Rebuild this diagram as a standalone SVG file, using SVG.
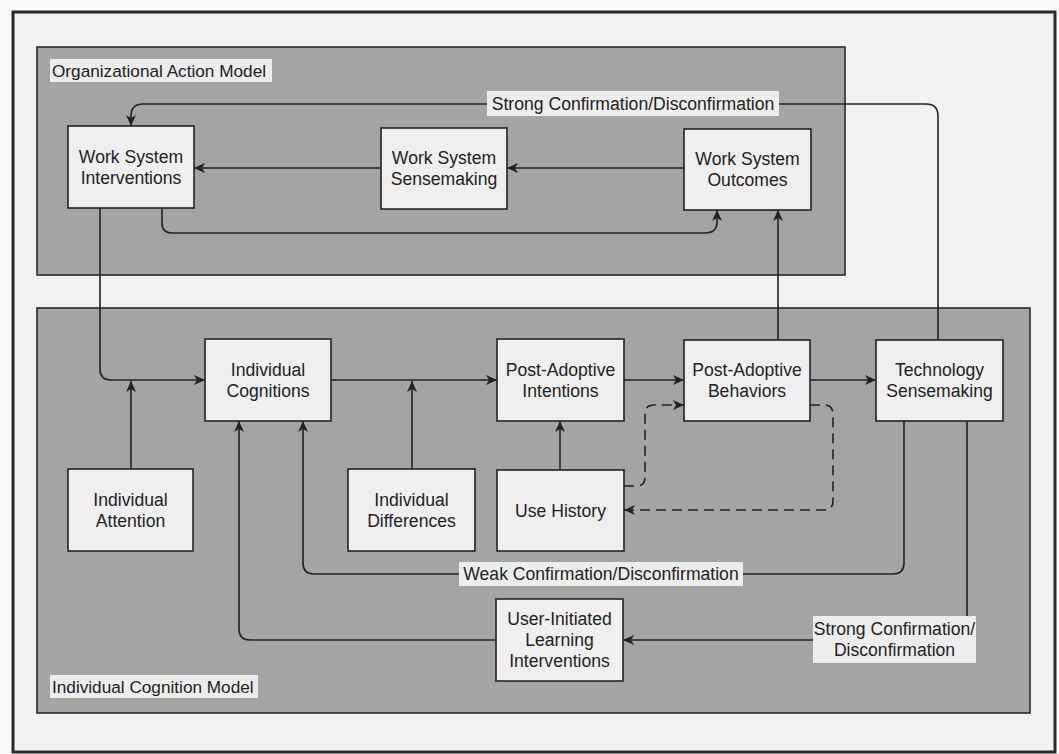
<svg xmlns="http://www.w3.org/2000/svg" width="1059" height="754" viewBox="0 0 1059 754">
<defs>
<style>
.panel{fill:#a4a4a4;stroke:#2a2a2a;stroke-width:1.6}
.box{fill:#efefef;stroke:#222;stroke-width:1.6}
.t{font-family:"Liberation Sans",Arial,sans-serif;font-size:17.6px;fill:#222;text-anchor:middle}
.tl{font-family:"Liberation Sans",Arial,sans-serif;font-size:17.2px;fill:#222}
.lbg{fill:#ededed}
.c{fill:none;stroke:#222;stroke-width:1.6}
.d{fill:none;stroke:#222;stroke-width:1.6;stroke-dasharray:10,6}
.a{marker-end:url(#ah)}
</style>
<marker id="ah" markerUnits="userSpaceOnUse" markerWidth="12" markerHeight="10" refX="11" refY="5" orient="auto">
<path d="M0,0 L11,5 L0,10 L3,5 z" fill="#222"/>
</marker>
</defs>
<rect x="0" y="0" width="1059" height="754" fill="#fafafa"/>
<rect x="13" y="12" width="1042" height="740" fill="#f1f1f1" stroke="#2a2a2a" stroke-width="3"/>
<g id="panel-org">
<rect class="panel" x="37" y="47" width="808" height="228"/>
<rect class="lbg" x="50" y="59" width="222" height="23"/>
<text class="tl" x="52" y="77">Organizational Action Model</text>
</g>
<g id="panel-ind">
<rect class="panel" x="37" y="308" width="993" height="405"/>
<rect class="lbg" x="50" y="675" width="208" height="23"/>
<text class="tl" x="52" y="693">Individual Cognition Model</text>
</g>
<g id="connectors">
<path class="c a" d="M684,168 H507"/>
<path class="c a" d="M381,168 H194"/>
<path class="c a" d="M162,208 V223 Q162,233 172,233 H705 Q717,233 717,222 V210"/>
<path class="c a" d="M938,340 V116 Q938,104 926,104 H143 Q131,104 131,116 V126"/>
<path class="c a" d="M100,208 V369 Q100,380 111,380 H205"/>
<path class="c a" d="M131,469 V381"/>
<path class="c a" d="M331,380 H497"/>
<path class="c a" d="M412,469 V381"/>
<path class="c a" d="M624,380 H684"/>
<path class="c a" d="M810,380 H876"/>
<path class="c a" d="M560,470 V421"/>
<path class="c a" d="M778,340 V210"/>
<path class="d a" d="M624,486 H637 Q645,486 645,477 V414 Q645,405 654,405 H684"/>
<path class="d a" d="M810,405 H824 Q833,405 833,414 V501 Q833,510 824,510 H624"/>
<path class="c a" d="M904,421 V563 Q904,574 893,574 H314 Q303,574 303,563 V421"/>
<path class="c a" d="M967,421 V640 H623"/>
<path class="c a" d="M496,640 H250 Q239,640 239,629 V421"/>
<rect class="lbg" x="487" y="91" width="292" height="25"/>
<text class="t" x="633" y="110">Strong Confirmation/Disconfirmation</text>
<rect class="lbg" x="459" y="562" width="284" height="24"/>
<text class="t" x="601" y="580">Weak Confirmation/Disconfirmation</text>
<rect class="lbg" x="813" y="616" width="163" height="47"/>
<text class="t" x="894.5" y="635">Strong Confirmation/</text>
<text class="t" x="894.5" y="656">Disconfirmation</text>
</g>
<g id="wsi"><rect class="box" x="68" y="126" width="126" height="82"/><text class="t" x="131" y="163">Work System</text><text class="t" x="131" y="184">Interventions</text></g>
<g id="wss"><rect class="box" x="381" y="128" width="126" height="81"/><text class="t" x="444" y="164">Work System</text><text class="t" x="444" y="185">Sensemaking</text></g>
<g id="wso"><rect class="box" x="684" y="129" width="127" height="81"/><text class="t" x="747.5" y="165">Work System</text><text class="t" x="747.5" y="186">Outcomes</text></g>
<g id="ic"><rect class="box" x="205" y="339" width="126" height="82"/><text class="t" x="268" y="376">Individual</text><text class="t" x="268" y="397">Cognitions</text></g>
<g id="pai"><rect class="box" x="497" y="339" width="127" height="82"/><text class="t" x="560.5" y="376">Post-Adoptive</text><text class="t" x="560.5" y="397">Intentions</text></g>
<g id="pab"><rect class="box" x="684" y="340" width="126" height="81"/><text class="t" x="747" y="376">Post-Adoptive</text><text class="t" x="747" y="397">Behaviors</text></g>
<g id="ts"><rect class="box" x="876" y="340" width="127" height="81"/><text class="t" x="939.5" y="376">Technology</text><text class="t" x="939.5" y="397">Sensemaking</text></g>
<g id="ia"><rect class="box" x="68" y="469" width="125" height="82"/><text class="t" x="130.5" y="506">Individual</text><text class="t" x="130.5" y="527">Attention</text></g>
<g id="id"><rect class="box" x="348" y="469" width="127" height="82"/><text class="t" x="411.5" y="506">Individual</text><text class="t" x="411.5" y="527">Differences</text></g>
<g id="uh"><rect class="box" x="497" y="470" width="127" height="81"/><text class="t" x="560.5" y="517">Use History</text></g>
<g id="uli"><rect class="box" x="496" y="599" width="127" height="82"/><text class="t" x="559.5" y="625">User-Initiated</text><text class="t" x="559.5" y="646">Learning</text><text class="t" x="559.5" y="667">Interventions</text></g>
</svg>
